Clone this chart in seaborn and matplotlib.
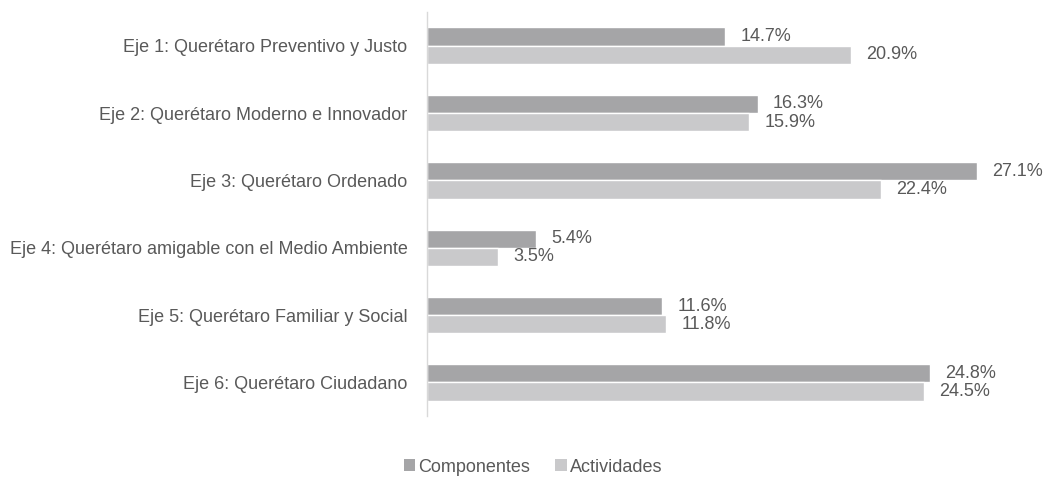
#!/usr/bin/env python3
"""Horizontal grouped bars: share of components and activities per Eje."""

import matplotlib
matplotlib.use("Agg")
import matplotlib.pyplot as plt
import pandas as pd
import seaborn as sns
from matplotlib.patches import Patch

EJES = [
    "Eje 1: Querétaro Preventivo y Justo",
    "Eje 2: Querétaro Moderno e Innovador",
    "Eje 3: Querétaro Ordenado",
    "Eje 4: Querétaro amigable con el Medio Ambiente",
    "Eje 5: Querétaro Familiar y Social",
    "Eje 6: Querétaro Ciudadano",
]
SERIES = ["Componentes", "Actividades"]
COMPONENTES = [14.7, 16.3, 27.1, 5.4, 11.6, 24.8]
ACTIVIDADES = [20.9, 15.9, 22.4, 3.5, 11.8, 24.5]

COLORS = ["#A5A5A7", "#C9C9CB"]
TEXT = "#595959"
FS = 13


def main() -> None:
    sns.set_theme(style="white")
    plt.rcParams["font.family"] = ["Liberation Sans", "DejaVu Sans"]

    df = pd.DataFrame({
        "eje": EJES * 2,
        "serie": [SERIES[0]] * len(EJES) + [SERIES[1]] * len(EJES),
        "valor": COMPONENTES + ACTIVIDADES,
    })

    fig = plt.figure(figsize=(10.49, 4.8), dpi=100)
    ax = fig.add_axes([0.407, 0.133, 0.58, 0.842])
    sns.barplot(
        data=df, y="eje", x="valor", hue="serie", orient="h",
        palette=COLORS, width=0.54, gap=0, ax=ax, legend=False,
        saturation=1,
    )

    for cont in ax.containers:
        ax.bar_label(cont, labels=[f"{v:.1f}%" for v in cont.datavalues],
                     padding=11, fontsize=FS, color=TEXT)

    ax.set_xlim(0, 30)
    ax.set_xlabel("")
    ax.set_ylabel("")
    ax.set_xticks([])
    ax.tick_params(axis="y", length=0, pad=14, labelsize=FS, labelcolor=TEXT)
    for side in ["top", "right", "bottom"]:
        ax.spines[side].set_visible(False)
    ax.spines["left"].set_color("#D9D9D9")
    ax.spines["left"].set_linewidth(1)

    handles = [Patch(facecolor=c, edgecolor="none") for c in COLORS]
    fig.legend(handles, SERIES, loc="center", bbox_to_anchor=(0.508, 0.027),
               ncol=2, frameon=False, handlelength=0.65, handleheight=0.65,
               handletextpad=0.15, columnspacing=1.4, fontsize=FS,
               labelcolor=TEXT)

    fig.savefig("out.png", dpi=100)


if __name__ == "__main__":
    main()
